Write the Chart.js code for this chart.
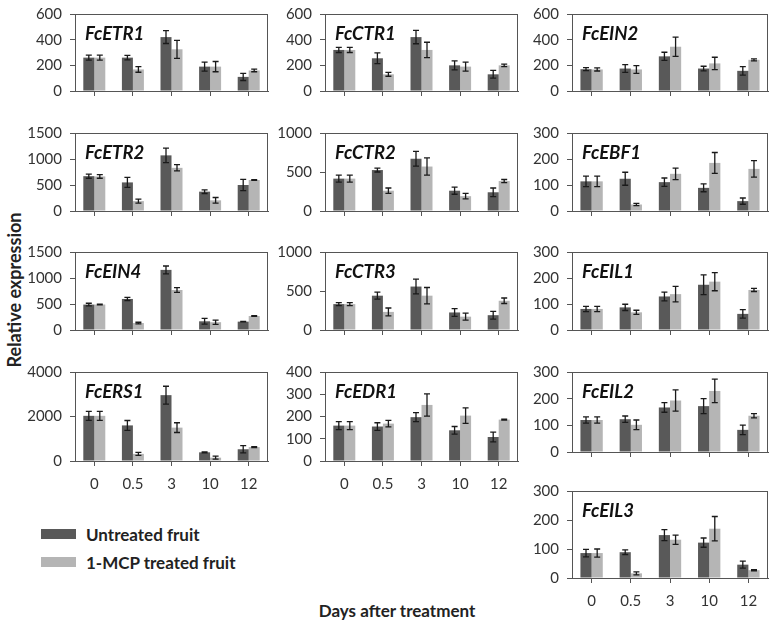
<!DOCTYPE html>
<html>
<head>
<meta charset="utf-8">
<script src="https://cdn.jsdelivr.net/npm/chart.js@4"></script>
<style>
  body { margin: 0; background: #fff; }
  #wrap { position: relative; width: 777px; height: 629px; overflow: hidden; font-family: Lato, sans-serif; }
  #wrap canvas { position: absolute; }
  .txt { position: absolute; font-weight: bold; color: #222; white-space: nowrap; }
  .sw { position: absolute; width: 35px; height: 10px; }
</style>
</head>
<body>
<div id="wrap">
  <div class="txt" id="ylab" style="left:14px;top:290px;font-size:18px;transform:translate(-50%,-50%) rotate(-90deg);">Relative expression</div>
  <div class="txt" style="left:397px;top:610px;font-size:17px;transform:translate(-50%,-50%);">Days after treatment</div>
  <div class="sw" style="left:41px;top:529px;background:#595959;"></div>
  <div class="txt" style="left:86px;top:534px;font-size:17px;transform:translateY(-50%);">Untreated fruit</div>
  <div class="sw" style="left:41px;top:557px;background:#b5b5b5;"></div>
  <div class="txt" style="left:86px;top:562px;font-size:17px;transform:translateY(-50%);">1-MCP treated fruit</div>
</div>
<script>
// days after treatment
const days = ['0', '0.5', '3', '10', '12'];

// values (mean, error)
const etr1Untreated = [260, 260, 420, 190, 110];
const etr1UntreatedErr = [20, 18, 50, 35, 28];
const etr1Treated = [260, 168, 325, 190, 160];
const etr1TreatedErr = [20, 22, 70, 40, 10];

const ctr1Untreated = [320, 255, 420, 200, 130];
const ctr1UntreatedErr = [20, 42, 52, 35, 30];
const ctr1Treated = [320, 130, 320, 190, 200];
const ctr1TreatedErr = [20, 15, 60, 35, 10];

const ein2Untreated = [170, 175, 270, 175, 157];
const ein2UntreatedErr = [12, 30, 32, 18, 33];
const ein2Treated = [168, 168, 345, 215, 243];
const ein2TreatedErr = [12, 30, 75, 48, 8];

const etr2Untreated = [670, 550, 1070, 372, 500];
const etr2UntreatedErr = [40, 95, 140, 35, 110];
const etr2Treated = [665, 190, 830, 205, 596];
const etr2TreatedErr = [35, 40, 60, 55, 8];

const ctr2Untreated = [415, 525, 670, 260, 240];
const ctr2UntreatedErr = [45, 25, 95, 45, 55];
const ctr2Treated = [415, 260, 570, 190, 384];
const ctr2TreatedErr = [45, 35, 110, 35, 20];

const ebf1Untreated = [114, 124, 111, 89, 38];
const ebf1UntreatedErr = [20, 25, 16, 15, 12];
const ebf1Treated = [114, 25, 143, 185, 162];
const ebf1TreatedErr = [20, 4, 22, 40, 32];

const ein4Untreated = [489, 597, 1156, 167, 161];
const ein4UntreatedErr = [25, 30, 75, 55, 5];
const ein4Treated = [490, 134, 769, 150, 269];
const ein4TreatedErr = [8, 15, 45, 40, 5];

const ctr3Untreated = [332, 440, 557, 225, 190];
const ctr3UntreatedErr = [20, 45, 95, 50, 50];
const ctr3Treated = [332, 232, 440, 171, 375];
const ctr3TreatedErr = [20, 50, 105, 45, 35];

const eil1Untreated = [81, 87, 129, 174, 62];
const eil1UntreatedErr = [10, 12, 17, 38, 16];
const eil1Treated = [81, 68, 138, 186, 154];
const eil1TreatedErr = [10, 8, 30, 35, 6];

const ers1Untreated = [2030, 1600, 2960, 390, 528];
const ers1UntreatedErr = [200, 220, 400, 20, 160];
const ers1Treated = [2030, 320, 1500, 150, 625];
const ers1TreatedErr = [200, 70, 220, 70, 20];

const edr1Untreated = [159, 155, 197, 138, 108];
const edr1UntreatedErr = [18, 17, 20, 17, 22];
const edr1Treated = [159, 168, 252, 204, 186];
const edr1TreatedErr = [18, 15, 50, 35, 2];

const eil2Untreated = [120, 123, 167, 172, 83];
const eil2UntreatedErr = [12, 12, 18, 28, 18];
const eil2Treated = [120, 102, 193, 229, 136];
const eil2TreatedErr = [12, 18, 40, 44, 8];

const eil3Untreated = [86, 89, 148, 122, 46];
const eil3UntreatedErr = [13, 8, 19, 16, 12];
const eil3Treated = [86, 16, 132, 170, 27];
const eil3TreatedErr = [14, 5, 16, 42, 2];

// panel grid
const colX = [[75, 268], [325, 518], [572, 768]];
const rowY = [[7, 100], [126, 220], [245, 339], [365, 461], [484, 578]];

const panels = [
  { name: 'FcETR1', col: 0, row: 0, max: 600, step: 200, a: etr1Untreated, ae: etr1UntreatedErr, b: etr1Treated, be: etr1TreatedErr },
  { name: 'FcCTR1', col: 1, row: 0, max: 600, step: 200, a: ctr1Untreated, ae: ctr1UntreatedErr, b: ctr1Treated, be: ctr1TreatedErr },
  { name: 'FcEIN2', col: 2, row: 0, max: 600, step: 200, a: ein2Untreated, ae: ein2UntreatedErr, b: ein2Treated, be: ein2TreatedErr },
  { name: 'FcETR2', col: 0, row: 1, max: 1500, step: 500, a: etr2Untreated, ae: etr2UntreatedErr, b: etr2Treated, be: etr2TreatedErr },
  { name: 'FcCTR2', col: 1, row: 1, max: 1000, step: 500, a: ctr2Untreated, ae: ctr2UntreatedErr, b: ctr2Treated, be: ctr2TreatedErr },
  { name: 'FcEBF1', col: 2, row: 1, max: 300, step: 100, a: ebf1Untreated, ae: ebf1UntreatedErr, b: ebf1Treated, be: ebf1TreatedErr },
  { name: 'FcEIN4', col: 0, row: 2, max: 1500, step: 500, a: ein4Untreated, ae: ein4UntreatedErr, b: ein4Treated, be: ein4TreatedErr },
  { name: 'FcCTR3', col: 1, row: 2, max: 1000, step: 500, a: ctr3Untreated, ae: ctr3UntreatedErr, b: ctr3Treated, be: ctr3TreatedErr },
  { name: 'FcEIL1', col: 2, row: 2, max: 300, step: 100, a: eil1Untreated, ae: eil1UntreatedErr, b: eil1Treated, be: eil1TreatedErr },
  { name: 'FcERS1', col: 0, row: 3, max: 4000, step: 2000, a: ers1Untreated, ae: ers1UntreatedErr, b: ers1Treated, be: ers1TreatedErr, labels: true },
  { name: 'FcEDR1', col: 1, row: 3, max: 400, step: 100, a: edr1Untreated, ae: edr1UntreatedErr, b: edr1Treated, be: edr1TreatedErr, labels: true },
  { name: 'FcEIL2', col: 2, row: 3, max: 300, step: 100, a: eil2Untreated, ae: eil2UntreatedErr, b: eil2Treated, be: eil2TreatedErr },
  { name: 'FcEIL3', col: 2, row: 4, max: 300, step: 100, a: eil3Untreated, ae: eil3UntreatedErr, b: eil3Treated, be: eil3TreatedErr, labels: true }
];

Chart.defaults.font.family = 'Lato, sans-serif';
Chart.defaults.color = '#333';
Chart.defaults.animation = false;

const lineColor = '#555';
const yW = 60, padT = 10, padR = 10;

// error bars, frame and gene name
const extras = {
  id: 'extras',
  afterDatasetsDraw(chart, args, opts) {
    const ctx = chart.ctx;
    const y = chart.scales.y;
    ctx.save();
    ctx.strokeStyle = '#1a1a1a';
    ctx.lineWidth = 1.3;
    chart.data.datasets.forEach((ds, i) => {
      chart.getDatasetMeta(i).data.forEach((bar, j) => {
        const v = ds.data[j], e = ds.err[j];
        const y1 = y.getPixelForValue(v + e), y2 = y.getPixelForValue(v - e);
        ctx.beginPath();
        ctx.moveTo(bar.x, y1); ctx.lineTo(bar.x, y2);
        ctx.moveTo(bar.x - 3, y1); ctx.lineTo(bar.x + 3, y1);
        ctx.moveTo(bar.x - 3, y2); ctx.lineTo(bar.x + 3, y2);
        ctx.stroke();
      });
    });
    ctx.restore();
  },
  afterDraw(chart, args, opts) {
    const ctx = chart.ctx, a = chart.chartArea;
    ctx.save();
    ctx.strokeStyle = lineColor;
    ctx.lineWidth = 1;
    ctx.strokeRect(a.left + 0.5, a.top + 0.5, a.right - a.left - 1, a.bottom - a.top);
    ctx.fillStyle = '#111';
    ctx.font = 'italic bold 18.5px Lato, sans-serif';
    ctx.textBaseline = 'alphabetic';
    ctx.fillText(opts.name, a.left + 10, a.top + 26);
    ctx.restore();
  }
};

const wrap = document.getElementById('wrap');

panels.forEach(p => {
  const [L, R] = colX[p.col];
  const [T, B] = rowY[p.row];
  const xh = p.labels ? 36 : 8;
  const cv = document.createElement('canvas');
  const w = (R - L) + yW + padR, h = (B - T) + padT + xh;
  cv.width = w; cv.height = h;
  cv.style.left = (L - yW) + 'px';
  cv.style.top = (T - padT) + 'px';
  cv.style.width = w + 'px';
  cv.style.height = h + 'px';
  wrap.appendChild(cv);

  new Chart(cv, {
    type: 'bar',
    data: {
      labels: days,
      datasets: [
        { label: 'Untreated fruit', data: p.a, err: p.ae, backgroundColor: '#595959' },
        { label: '1-MCP treated fruit', data: p.b, err: p.be, backgroundColor: '#b5b5b5' }
      ]
    },
    options: {
      responsive: false,
      devicePixelRatio: 1,
      layout: { padding: { top: padT, right: padR, left: 0, bottom: 0 } },
      categoryPercentage: 0.57,
      barPercentage: 1.0,
      plugins: {
        legend: { display: false },
        tooltip: { enabled: false },
        extras: { name: p.name }
      },
      scales: {
        x: {
          grid: { offset: false, drawOnChartArea: false, drawTicks: true, tickLength: 5, color: lineColor },
          border: { color: lineColor },
          ticks: { display: !!p.labels, padding: 9, font: { size: 15 }, maxRotation: 0 },
          afterFit(s) { s.height = xh; }
        },
        y: {
          min: 0, max: p.max,
          grid: { drawOnChartArea: false, drawTicks: true, tickLength: 5, color: lineColor },
          border: { color: lineColor },
          ticks: { stepSize: p.step, padding: 8, font: { size: 15 }, callback: v => String(v) },
          afterFit(s) { s.width = yW; }
        }
      }
    },
    plugins: [extras]
  });
});
</script>
</body>
</html>
